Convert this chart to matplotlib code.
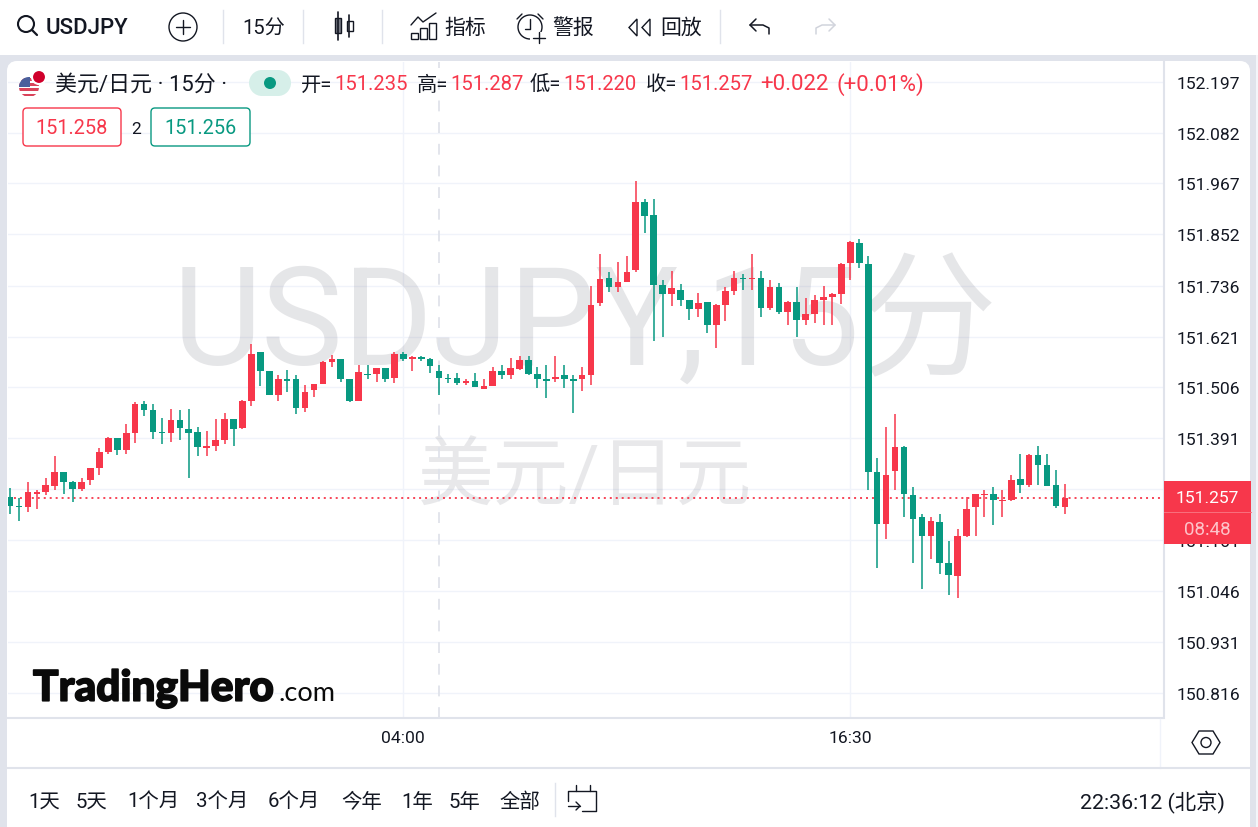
import matplotlib
matplotlib.use('Agg')
import matplotlib.pyplot as plt
import matplotlib.patheffects as pe
from matplotlib.patches import Circle, FancyBboxPatch, Rectangle, Polygon

# 15分钟K线, 价格从图上读出
opens = [151.259, 151.239, 151.236, 151.266, 151.269, 151.283, 151.314, 151.293, 151.276, 151.296,
         151.324, 151.361, 151.392, 151.365, 151.402, 151.469, 151.456, 151.405, 151.402, 151.432,
         151.412, 151.405, 151.368, 151.374, 151.388, 151.435, 151.415, 151.476, 151.585, 151.544,
         151.490, 151.524, 151.524, 151.460, 151.500, 151.514, 151.564, 151.571, 151.524, 151.476,
         151.537, 151.537, 151.551, 151.527, 151.582, 151.571, 151.574, 151.571, 151.544, 151.527,
         151.527, 151.517, 151.520, 151.503, 151.510, 151.544, 151.534, 151.548, 151.568, 151.537,
         151.524, 151.524, 151.534, 151.524, 151.524, 151.534, 151.697, 151.754, 151.734, 151.744,
         151.771, 151.924, 151.896, 151.737, 151.717, 151.727, 151.704, 151.683, 151.700, 151.646,
         151.693, 151.724, 151.754, 151.751, 151.754, 151.686, 151.734, 151.676, 151.700, 151.659,
         151.673, 151.704, 151.710, 151.717, 151.788, 151.832, 151.785, 151.314, 151.198, 151.317,
         151.371, 151.263, 151.212, 151.171, 151.202, 151.110, 151.079, 151.171, 151.236, 151.263,
         151.266, 151.249, 151.252, 151.300, 151.286, 151.354, 151.331, 151.286, 151.235]
highs = [151.279, 151.255, 151.293, 151.275, 151.302, 151.350, 151.314, 151.295, 151.302, 151.324,
         151.368, 151.395, 151.392, 151.424, 151.472, 151.476, 151.469, 151.438, 151.458, 151.456,
         151.458, 151.417, 151.408, 151.435, 151.449, 151.435, 151.478, 151.605, 151.585, 151.544,
         151.533, 151.546, 151.533, 151.512, 151.514, 151.566, 151.580, 151.571, 151.526, 151.557,
         151.557, 151.551, 151.551, 151.587, 151.585, 151.578, 151.578, 151.573, 151.557, 151.537,
         151.539, 151.524, 151.539, 151.524, 151.553, 151.557, 151.573, 151.578, 151.578, 151.553,
         151.557, 151.578, 151.557, 151.533, 151.553, 151.736, 151.808, 151.768, 151.790, 151.804,
         151.973, 151.932, 151.932, 151.749, 151.770, 151.740, 151.704, 151.720, 151.700, 151.695,
         151.734, 151.770, 151.763, 151.808, 151.770, 151.749, 151.743, 151.702, 151.734, 151.707,
         151.716, 151.736, 151.720, 151.788, 151.838, 151.842, 151.804, 151.347, 151.417, 151.445,
         151.374, 151.282, 151.221, 151.212, 151.219, 151.158, 151.185, 151.259, 151.266, 151.275,
         151.280, 151.275, 151.309, 151.356, 151.356, 151.374, 151.356, 151.320, 151.287]
lows = [151.221, 151.205, 151.225, 151.232, 151.262, 151.275, 151.266, 151.246, 151.273, 151.286,
        151.307, 151.356, 151.354, 151.356, 151.381, 151.442, 151.390, 151.377, 151.383, 151.388,
        151.302, 151.350, 151.350, 151.363, 151.377, 151.374, 151.411, 151.463, 151.510, 151.490,
        151.476, 151.496, 151.445, 151.451, 151.485, 151.514, 151.553, 151.519, 151.472, 151.476,
        151.526, 151.519, 151.519, 151.517, 151.566, 151.544, 151.566, 151.539, 151.490, 151.517,
        151.512, 151.512, 151.506, 151.503, 151.510, 151.526, 151.526, 151.546, 151.533, 151.505,
        151.483, 151.519, 151.505, 151.449, 151.499, 151.512, 151.689, 151.722, 151.722, 151.744,
        151.768, 151.856, 151.612, 151.621, 151.689, 151.689, 151.659, 151.666, 151.628, 151.594,
        151.655, 151.716, 151.727, 151.727, 151.666, 151.682, 151.673, 151.646, 151.619, 151.646,
        151.652, 151.646, 151.646, 151.695, 151.749, 151.777, 151.275, 151.097, 151.164, 151.275,
        151.214, 151.110, 151.051, 151.119, 151.085, 151.036, 151.029, 151.167, 151.171, 151.212,
        151.194, 151.214, 151.249, 151.268, 151.282, 151.286, 151.283, 151.234, 151.220]
closes = [151.239, 151.235, 151.270, 151.269, 151.286, 151.314, 151.293, 151.276, 151.293, 151.324,
          151.361, 151.392, 151.365, 151.402, 151.469, 151.456, 151.405, 151.402, 151.432, 151.415,
          151.402, 151.371, 151.374, 151.388, 151.435, 151.412, 151.476, 151.582, 151.544, 151.490,
          151.524, 151.520, 151.460, 151.496, 151.514, 151.564, 151.571, 151.524, 151.476, 151.540,
          151.534, 151.551, 151.524, 151.582, 151.571, 151.575, 151.571, 151.554, 151.527, 151.524,
          151.517, 151.520, 151.506, 151.510, 151.544, 151.534, 151.551, 151.568, 151.537, 151.524,
          151.520, 151.530, 151.524, 151.520, 151.534, 151.693, 151.751, 151.734, 151.744, 151.768,
          151.924, 151.893, 151.737, 151.717, 151.731, 151.704, 151.683, 151.697, 151.646, 151.693,
          151.724, 151.754, 151.751, 151.754, 151.686, 151.734, 151.676, 151.700, 151.659, 151.673,
          151.704, 151.710, 151.717, 151.785, 151.835, 151.788, 151.314, 151.198, 151.307, 151.371,
          151.266, 151.209, 151.171, 151.205, 151.110, 151.083, 151.171, 151.232, 151.266, 151.266,
          151.252, 151.252, 151.297, 151.286, 151.354, 151.331, 151.283, 151.239, 151.257]

price_ticks = [152.197, 152.082, 151.967, 151.852, 151.736, 151.621, 151.506, 151.391,
               151.276, 151.161, 151.046, 150.931, 150.816]
hidden_tick = 151.276  # 被现价标签完全盖住
time_ticks = [44, 94]
time_labels = ['04:00', '16:30']
day_break = 48
last_price = 151.257

RED = '#f7374b'
GREEN = '#089981'
LINE = '#e0e3eb'
GRID = '#f0f3fa'
INK = '#131722'

plt.rcParams['font.family'] = ['Roboto', 'Noto Sans CJK SC', 'DejaVu Sans']

W, H = 1258, 828
fig = plt.figure(figsize=(W / 100, H / 100), dpi=100, facecolor='white')


def rect_px(x0, y0, x1, y1):
    return [x0 / W, 1 - y1 / H, (x1 - x0) / W, (y1 - y0) / H]


# 背景层
bg = fig.add_axes([0, 0, 1, 1], zorder=0)
bg.set_xlim(0, W)
bg.set_ylim(H, 0)
bg.axis('off')
bg.add_patch(Rectangle((0, 56), W, H - 56, fc=LINE, ec='none'))
bg.add_patch(FancyBboxPatch((11, 66), 1235, 780, boxstyle='round,pad=0,rounding_size=6', fc='white', ec='white', lw=5.76))
bg.add_patch(Rectangle((1256, 56), 2, H - 56, fc='#f4f5f9', ec='none'))

# K线图
ax = fig.add_axes(rect_px(8, 62.7, 1163, 718.7), zorder=1)
ax.patch.set_alpha(0)
bar_px = 8.94
ax.set_xlim((8 - 10) / bar_px, (1163 - 10) / bar_px)
per_px = (price_ticks[0] - price_ticks[-1]) / (693 - 82)
ax.set_ylim(price_ticks[-1] - (718 - 693) * per_px, price_ticks[0] + (82 - 62) * per_px)

ax.set_yticks(price_ticks)
ax.set_yticklabels(['' if p == hidden_tick else f'{p:.3f}' for p in price_ticks], fontsize=12.6, color=INK)
ax.yaxis.tick_right()
ax.tick_params(axis='y', length=0, pad=9.5)
ax.set_xticks(time_ticks)
ax.set_xticklabels(time_labels, fontsize=12.6, color=INK)
ax.tick_params(axis='x', length=0, pad=8.5)
ax.grid(True, color=GRID, lw=1)
ax.set_axisbelow(True)
for s in ax.spines.values():
    s.set_visible(False)

ui = fig.add_axes([0, 0, 1, 1], zorder=2)
ui.set_xlim(0, W)
ui.set_ylim(H, 0)
ui.axis('off')
ui.patch.set_alpha(0)

# 水印
ax.text(585, 328, 'USDJPY,15分', transform=ui.transData, fontsize=99, color='#787b86', alpha=0.19,
        ha='center', va='center', zorder=1)
ax.text(585, 479, '美元/日元', transform=ui.transData, fontsize=54.5, color='#787b86', alpha=0.17,
        ha='center', va='center', zorder=1)

ax.axvline(day_break, color=LINE, lw=1.3, ls=(0, (6, 6)), zorder=1.5)
ax.axhline(last_price, color=RED, lw=1.3, ls=(0, (1.1, 2.2)), zorder=2)

for i in range(len(opens)):
    col = RED if closes[i] >= opens[i] else GREEN
    ax.vlines(i, lows[i], highs[i], color=col, lw=1.1, zorder=3)
    bottom = min(opens[i], closes[i])
    ax.bar(i, abs(closes[i] - opens[i]), bottom=bottom, width=0.74, color=col, linewidth=0, zorder=4)


def txt(x, y, s, size=15, color=INK, ha='left', **kw):
    return ui.text(x, y, s, fontsize=size, color=color, ha=ha, va='center', **kw)


def stroke(xs, ys, color=INK, lw=1.2):
    ui.plot(xs, ys, color=color, lw=lw, solid_capstyle='round', solid_joinstyle='round')


# 边线
ui.plot([1164, 1164], [62, 719], color=LINE, lw=1.5)
ui.plot([7, 1162], [719, 719], color=LINE, lw=1.5)
ui.plot([1160, 1160], [720, 769], color=GRID, lw=1)
ui.plot([7, 1250], [769, 769], color=LINE, lw=1.5)

# 现价标签
ui.add_patch(Rectangle((1164, 482), 87, 63, fc=RED, ec='none', zorder=5))
ui.plot([1164, 1251], [513, 513], color='#f9707e', lw=0.7, zorder=6)
txt(1207.5, 498.5, f'{last_price:.3f}', 12.6, 'white', 'center', zorder=6)
txt(1207.5, 530, '08:48', 13.5, '#fdc3c9', 'center', zorder=6)

# 顶部工具栏
ui.add_patch(Circle((26, 25), 8, fc='none', ec=INK, lw=1.5))
stroke([32, 37], [31, 36], lw=1.6)
txt(46, 28, 'USDJPY', 16, fontweight='medium')
ui.add_patch(Circle((183, 28), 14, fc='none', ec=INK, lw=1))
stroke([176, 190], [28, 28], lw=1)
stroke([183, 183], [21, 35], lw=1)
for xs in (223, 303, 382, 720):
    ui.plot([xs, xs], [11, 44], color=LINE, lw=1)
txt(242, 29, '15分', 14.5)
# 蜡烛图标
stroke([338, 338], [13, 41])
ui.add_patch(Rectangle((335, 19), 6, 15, fc='#777a84', ec=INK, lw=1))
stroke([349, 349], [16, 38])
ui.add_patch(Rectangle((346.5, 22), 6, 10, fc='white', ec=INK, lw=1))
# 指标图标
stroke([411, 418, 423, 436], [26, 18, 23, 14], lw=1)
for x0, y0 in ((411, 34), (420, 29), (429, 24)):
    ui.add_patch(Rectangle((x0, y0), 7, 40 - y0, fc='none', ec=INK, lw=1))
txt(444, 28, '指标', 15)
# 警报图标
ui.add_patch(Circle((530, 28), 12, fc='none', ec=INK, lw=1))
stroke([530, 530, 525], [20, 30, 30], lw=1)
stroke([517, 522], [20, 15], lw=1)
stroke([538, 543], [15, 20], lw=1)
ui.add_patch(Rectangle((530, 33), 16, 12, fc='white', ec='none'))
stroke([539, 539], [33, 44], lw=1)
stroke([533, 545], [38.5, 38.5], lw=1)
txt(552, 28, '警报', 15)
# 回放图标
ui.add_patch(Polygon([(637, 20), (629, 28.5), (637, 37)], closed=True, fc='none', ec=INK, lw=1))
ui.add_patch(Polygon([(650, 20), (642, 28.5), (650, 37)], closed=True, fc='none', ec=INK, lw=1))
txt(660, 28, '回放', 15)
# 撤销/重做
stroke([756, 750, 756], [20, 26, 32], lw=1.1)
stroke([750, 763, 769, 769], [26, 26, 29, 35], lw=1.1)
stroke([829, 835, 829], [20, 26, 32], '#d1d4dc', 1.1)
stroke([835, 822, 816, 816], [26, 26, 29, 35], '#d1d4dc', 1.1)

# 标题行
flag = Circle((29, 88), 10, fc='white', ec='none', zorder=3)
ui.add_patch(flag)
for k in range(4):
    st = ui.add_patch(Rectangle((19, 79 + k * 5.2), 20, 2.6, fc='#d9435a', ec='none', zorder=3.1))
    st.set_clip_path(flag)
canton = ui.add_patch(Rectangle((19, 78), 11, 10, fc='#4a5f9c', ec='none', zorder=3.2))
canton.set_clip_path(flag)
ui.add_patch(Circle((39, 78), 7, fc='#d0002b', ec='white', lw=1.5, zorder=3.3))

txt(55, 85, '美元/日元 · 15分 ·', 15.8)
ui.add_patch(Rectangle((262, 71), 16, 26, fc='#d6efe9', ec='none'))
ui.add_patch(Circle((262, 84), 13, fc='#d6efe9', ec='none'))
ui.add_patch(Circle((278, 84), 13, fc='#d6efe9', ec='none'))
ui.add_patch(Circle((270, 84), 6, fc=GREEN, ec='none'))

ohlc_labels = ['开=', '高=', '低=', '收=']
ohlc_values = [opens[-1], highs[-1], lows[-1], closes[-1]]
ohlc_x = [301, 417, 530, 646]
for x0, lab, val in zip(ohlc_x, ohlc_labels, ohlc_values):
    txt(x0, 85, lab, 14.6)
    txt(x0 + 33, 85, f'{val:.3f}', 14.6, RED)
txt(760, 85, '+0.022', 16, RED)
txt(836, 85, '(+0.01%)', 16, RED)

ui.add_patch(FancyBboxPatch((23, 109), 98, 38, boxstyle='round,pad=0,rounding_size=4', fc='white', ec=RED, lw=1))
txt(72, 129, '151.258', 14.3, RED, 'center')
txt(136, 129, '2', 12.5, INK, 'center')
ui.add_patch(FancyBboxPatch((151, 109), 99, 38, boxstyle='round,pad=0,rounding_size=4', fc='white', ec=GREEN, lw=1))
txt(200.5, 129, '151.256', 14.3, GREEN, 'center')

# logo
logo = txt(33, 690, 'TradingHero', 30.5, '#0a0a0a', family='Lato', fontweight='black')
logo.set_path_effects([pe.withStroke(linewidth=1.2, foreground='#0a0a0a')])
txt(278, 694, '.com', 19.5, '#0a0a0a', family='Lato')

# 设置图标
ui.add_patch(Polygon([(1192, 743.5), (1199, 732), (1213, 732), (1220, 743.5), (1213, 755), (1199, 755)],
                     closed=True, fc='none', ec=INK, lw=1))
ui.add_patch(Circle((1206, 743.5), 5, fc='none', ec=INK, lw=1))

# 底部工具栏
range_labels = ['1天', '5天', '1个月', '3个月', '6个月', '今年', '1年', '5年', '全部']
range_x = [28, 76, 127, 196, 268, 341, 401, 449, 500]
for x0, lab in zip(range_x, range_labels):
    txt(x0, 802, lab, 14.7)
ui.plot([555, 555], [784, 817], color=LINE, lw=1)
stroke([568, 568, 596, 596, 582], [802, 792, 792, 812, 812], lw=1)
stroke([576, 576], [786, 792], lw=1)
stroke([590, 590], [786, 792], lw=1)
stroke([568, 580], [807, 807], lw=1)
stroke([576, 580, 576], [803, 807, 811], lw=1)
txt(1225, 802, '22:36:12 (北京)', 15.4, ha='right')

fig.savefig('out.png', dpi=100)
